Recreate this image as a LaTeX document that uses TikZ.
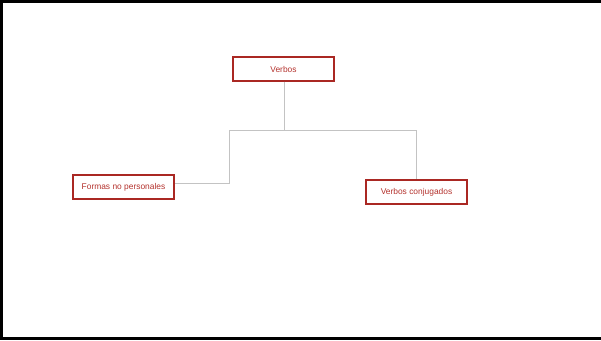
\documentclass[tikz,border=0pt]{standalone}
\usepackage{fontspec}
\setmainfont{Liberation Sans}
\usepackage{xcolor}
\usetikzlibrary{positioning}
\definecolor{boxred}{RGB}{170,40,35}
\definecolor{textred}{RGB}{180,50,45}
\definecolor{linegray}{RGB}{195,195,195}

\begin{document}
\begin{tikzpicture}
  [
    x=1pt, y=-1pt,
    Box/.style={rectangle, draw=boxred, fill=white, line width=1.2pt, minimum width=101pt, minimum height=24pt, inner sep=0pt, font=\fontsize{8.4}{9}\selectfont, text=textred},
    Link/.style={draw=linegray, line width=1pt}
  ]
  \useasboundingbox (0,0) rectangle (601,340);
  % Frame
  \begin{scope}
    \clip (0,0) rectangle (601,340);
    \draw[black, line width=3pt] (606,1.5) -- (1.5,1.5) -- (1.5,338.5) -- (606,338.5);
  \end{scope}

  % Nodes
  \node[Box] (verbos) at(283.5, 69) {Verbos};

  \node[Box] (formas) at(123.5, 187) {Formas no personales};

  \node[Box] (conjugados) at(416.5, 192) {Verbos conjugados};

  \coordinate (split) at(284, 130.5);

  % Lines
  \path [Link] (verbos.south -| split) -- (split) -- (229, 130.5) -- (229, 183) -- (formas.east |- 0, 183);
  \path [Link] (split) -- (416.5, 130.5) -- (conjugados.north);

\end{tikzpicture}
\end{document}
